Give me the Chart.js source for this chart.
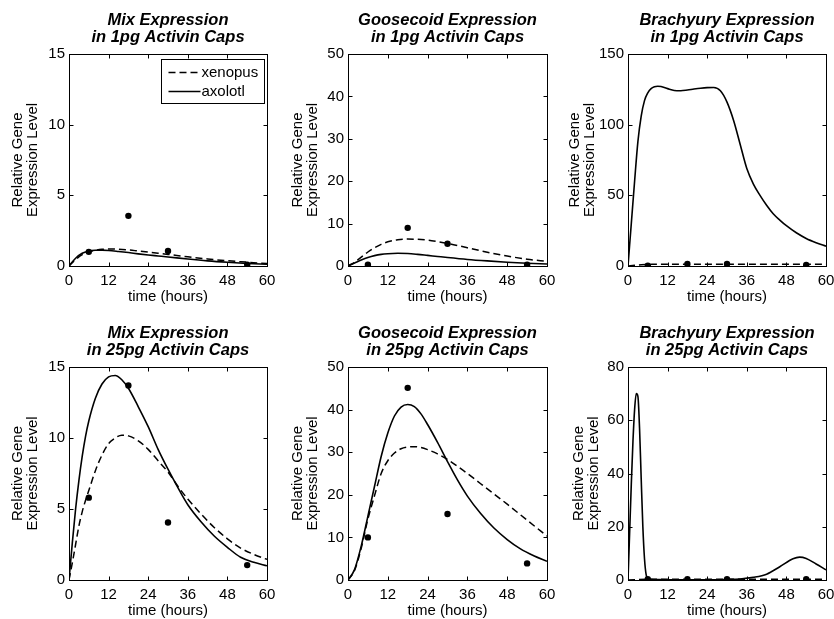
<!DOCTYPE html>
<html><head><meta charset="utf-8">
<script src="https://cdn.jsdelivr.net/npm/chart.js@4.4.1/dist/chart.umd.min.js"></script>
<style>
html,body{margin:0;padding:0;background:#fff;overflow:hidden;width:834px;height:619px;}
#wrap{position:relative;width:834px;height:619px;overflow:hidden;background:#fff;}
canvas{position:absolute;left:0;top:0;}
</style></head><body><div id="wrap">
<canvas id="c0" width="860" height="619"></canvas>
<canvas id="c1" width="860" height="619"></canvas>
<canvas id="c2" width="860" height="619"></canvas>
<canvas id="c3" width="860" height="619"></canvas>
<canvas id="c4" width="860" height="619"></canvas>
<canvas id="c5" width="860" height="619"></canvas>
</div>
<script>
// ---------- data ----------
const timeTicks = [0, 12, 24, 36, 48, 60];
const obsTimes = [6, 18, 30, 54];
const seriesNames = ['xenopus', 'axolotl'];

const mix1Times = [0,2,4,6,8,10,12,15,18,21,24,27,30,36,42,48,54,60];
const mix1Xenopus = [0,0.45,0.8,1.0,1.12,1.18,1.2,1.19,1.14,1.06,0.98,0.9,0.82,0.65,0.5,0.37,0.27,0.17];
const mix1Axolotl = [0,0.55,0.9,1.05,1.11,1.12,1.1,1.03,0.95,0.86,0.78,0.71,0.64,0.49,0.36,0.26,0.18,0.12];
const mix1Observed = [1.0,3.55,1.07,0.1];

const gsc1Times = [0,2,4,6,8,10,12,15,18,21,24,27,30,36,42,48,54,60];
const gsc1Xenopus = [0,0.9,2.1,3.3,4.3,5.1,5.7,6.2,6.35,6.3,6.1,5.75,5.35,4.3,3.25,2.35,1.6,1.1];
const gsc1Axolotl = [0,0.7,1.4,2.0,2.45,2.75,2.9,3.0,2.95,2.75,2.5,2.25,2.0,1.55,1.2,0.9,0.65,0.47];
const gsc1Observed = [0.3,9.0,5.25,0.3];

const bra1XenTimes = [0,2,4,6,8,10,12,18,24,30,36,42,48,54,60];
const bra1Xenopus = [0,0.5,0.9,1.1,1.2,1.3,1.3,1.3,1.3,1.3,1.3,1.3,1.3,1.3,1.3];
const bra1AxoTimes = [0,1,2,3,4,5,6,7,8,9,10,12,14,16,18,20,22,24,26,28,30,32,34,36,38,40,42,44,46,48,51,54,57,60];
const bra1Axolotl = [0,30,60,88,106,117,122.5,125.5,126.8,127.2,127,125.5,124.2,124,124.5,125.2,125.8,126.2,126.3,124,116,103,86,69,58,50,43,37,32.5,28.5,23.5,19.5,16.5,14];
const bra1Observed = [0.3,1.4,1.4,0.7];

const mix25Times = [0,1,2,3,4,5,6,8,10,12,14,16,18,21,24,27,30,33,36,40,44,48,52,56,60];
const mix25Xenopus = [0,1.2,2.5,3.8,4.8,5.6,6.3,7.7,8.8,9.6,10.0,10.2,10.15,9.8,9.2,8.4,7.6,6.6,5.7,4.65,3.7,2.9,2.25,1.8,1.45];
const mix25Axolotl = [0,2.6,5.0,7.0,8.7,10.1,11.2,12.8,13.8,14.3,14.4,14.1,13.5,12.2,10.8,9.2,7.8,6.5,5.3,4.1,3.1,2.3,1.6,1.25,1.0];
const mix25Observed = [5.8,13.7,4.05,1.05];

const gsc25Times = [0,2,4,6,8,10,12,14,16,18,20,22,24,27,30,33,36,40,44,48,52,56,60];
const gsc25Xenopus = [0,2.3,7.5,14.3,19.8,25,28,29.8,30.8,31.2,31.3,31.1,30.6,29.6,28.3,26.7,25.0,22.6,20.2,17.8,15.3,12.8,10.3];
const gsc25Axolotl = [0,2.5,8,15,22,29,34.5,38.5,40.6,41.2,40.7,39.0,36.5,32.3,27.8,23.5,19.7,15.6,12.2,9.5,7.3,5.7,4.4];
const gsc25Observed = [10.0,45.1,15.5,3.9];

const bra25XenTimes = [0,6,12,24,36,48,60];
const bra25Xenopus = [0,0.3,0.3,0.3,0.3,0.3,0.3];
const bra25AxoTimes = [0,0.5,1,1.5,2,2.5,3,3.5,4,4.5,5,5.5,6,8,12,18,24,30,34,38,42,46,50,52,54,57,60];
const bra25Axolotl = [0,18,36,52,64,70,69,57,38,20,8,2,0.5,0.2,0.1,0.1,0.1,0.2,0.4,1.0,2.2,5.0,8.0,8.6,8.1,6.0,3.8];
const bra25Observed = [0.3,0.3,0.3,0.3];

const titles = [
  ['Mix Expression','in 1pg Activin Caps'],
  ['Goosecoid Expression','in 1pg Activin Caps'],
  ['Brachyury Expression','in 1pg Activin Caps'],
  ['Mix Expression','in 25pg Activin Caps'],
  ['Goosecoid Expression','in 25pg Activin Caps'],
  ['Brachyury Expression','in 25pg Activin Caps']
];
const yMaxes = [15, 50, 150, 15, 50, 80];
const ySteps = [5, 10, 50, 5, 10, 20];
const yTitle = ['Relative Gene', 'Expression Level'];
const xTitle = 'time (hours)';

// ---------- layout ----------
const FONT = '"Liberation Sans", Arial, Helvetica, sans-serif';
const rowTop = [54, 367], rowBottom = [266, 580];
const colLeft = [69, 348, 628], colRight = [267, 547, 826];
const yTitleCenter = [18, 298, 575, 18, 298, 579];
const CW = 860, CH = 619, XH = 39, YT_LH = 15;

Chart.defaults.font.family = FONT;
Chart.defaults.font.size = 15;
Chart.defaults.color = '#000';

function pts(t, v){ return t.map((x,i)=>({x:x, y:v[i]})); }

const panels = [
  {xen: pts(mix1Times, mix1Xenopus), axo: pts(mix1Times, mix1Axolotl), obs: pts(obsTimes, mix1Observed)},
  {xen: pts(gsc1Times, gsc1Xenopus), axo: pts(gsc1Times, gsc1Axolotl), obs: pts(obsTimes, gsc1Observed)},
  {xen: pts(bra1XenTimes, bra1Xenopus), axo: pts(bra1AxoTimes, bra1Axolotl), obs: pts(obsTimes, bra1Observed)},
  {xen: pts(mix25Times, mix25Xenopus), axo: pts(mix25Times, mix25Axolotl), obs: pts(obsTimes, mix25Observed)},
  {xen: pts(gsc25Times, gsc25Xenopus), axo: pts(gsc25Times, gsc25Axolotl), obs: pts(obsTimes, gsc25Observed)},
  {xen: pts(bra25XenTimes, bra25Xenopus), axo: pts(bra25AxoTimes, bra25Axolotl), obs: pts(obsTimes, bra25Observed)}
];

const framePlugin = {
  id: 'frame',
  afterDatasetsDraw(chart){
    const {ctx, chartArea:a, scales:{x, y}} = chart;
    ctx.save();
    ctx.strokeStyle = '#000'; ctx.lineWidth = 1;
    const L = Math.round(a.left)+0.5, R = Math.round(a.right)+0.5, T = Math.round(a.top)+0.5, B = Math.round(a.bottom)+0.5;
    ctx.strokeRect(L, T, R-L, B-T);
    const tl = 4;
    ctx.beginPath();
    x.ticks.forEach(t => {
      const px = Math.round(x.getPixelForValue(t.value))+0.5;
      ctx.moveTo(px, B); ctx.lineTo(px, B-tl);
      ctx.moveTo(px, T); ctx.lineTo(px, T+tl);
    });
    y.ticks.forEach(t => {
      const py = Math.round(y.getPixelForValue(t.value))+0.5;
      ctx.moveTo(L, py); ctx.lineTo(L+tl, py);
      ctx.moveTo(R, py); ctx.lineTo(R-tl, py);
    });
    ctx.stroke();
    ctx.restore();
  }
};

const titlePlugin = {
  id: 'panelTitle',
  afterDraw(chart, args, opts){
    const {ctx, chartArea:a} = chart;
    ctx.save();
    ctx.fillStyle = '#000';
    ctx.font = 'italic bold 16.5px ' + FONT;
    ctx.textAlign = 'center';
    ctx.textBaseline = 'alphabetic';
    const cx = (a.left + a.right)/2;
    (opts.lines || []).forEach((l, i) => ctx.fillText(l, cx, a.top - 29 + i*17));
    ctx.restore();
  }
};

const legendPlugin = {
  id: 'panelLegend',
  afterDraw(chart, args, opts){
    if (!opts.show) return;
    const {ctx, chartArea:a} = chart;
    const w = 103, h = 44;
    const x0 = Math.round(a.right - 3 - w)+0.5, y0 = Math.round(a.top + 5)+0.5;
    ctx.save();
    ctx.fillStyle = '#fff';
    ctx.fillRect(x0, y0, w, h);
    ctx.strokeStyle = '#000'; ctx.lineWidth = 1;
    ctx.strokeRect(x0, y0, w, h);
    const ds = chart.data.datasets.slice(0, 2);
    ctx.font = '15px ' + FONT;
    ctx.textBaseline = 'middle';
    ctx.textAlign = 'left';
    ds.forEach((d, i) => {
      const ly = y0 + 13 + i*19;
      ctx.beginPath();
      ctx.setLineDash(d.borderDash || []);
      ctx.lineWidth = 1.5;
      ctx.moveTo(x0 + 7, ly); ctx.lineTo(x0 + 39, ly);
      ctx.stroke();
      ctx.setLineDash([]);
      ctx.fillStyle = '#000';
      ctx.fillText(d.label, x0 + 40, ly);
    });
    ctx.restore();
  }
};

panels.forEach((p, i) => {
  const r = Math.floor(i/3), c = i % 3;
  const top = rowTop[r], bottom = rowBottom[r], left = colLeft[c], right = colRight[c];
  const padLeft = yTitleCenter[i] - YT_LH/2;
  const yW = left - padLeft;
  new Chart(document.getElementById('c'+i), {
    type: 'line',
    data: {
      datasets: [
        {label: seriesNames[0], data: p.xen, borderColor:'#000', borderWidth:1.5, borderDash:[7,4], pointRadius:0, cubicInterpolationMode:'monotone', fill:false},
        {label: seriesNames[1], data: p.axo, borderColor:'#000', borderWidth:1.6, pointRadius:0, cubicInterpolationMode:'monotone', fill:false},
        {label: 'data', data: p.obs, showLine:false, pointRadius:3.2, pointBackgroundColor:'#000', pointBorderColor:'#000', borderColor:'#000', pointBorderWidth:0}
      ]
    },
    options: {
      responsive: false, animation: false, devicePixelRatio: 1,
      layout: {padding: {left: padLeft, top: top, right: CW - right, bottom: CH - bottom - XH}},
      plugins: {
        legend: {display:false}, tooltip: {enabled:false},
        panelTitle: {lines: titles[i]},
        panelLegend: {show: i === 0}
      },
      scales: {
        x: {
          type: 'linear', min: 0, max: 60,
          afterBuildTicks: s => { s.ticks = timeTicks.map(v => ({value: v})); },
          grid: {display:false, drawTicks:false, tickLength:0}, border: {display:false},
          ticks: {padding: 6, font: {size: 15}, color:'#000', maxRotation:0, autoSkip:false},
          title: {display:true, text: xTitle, font: {size: 15, lineHeight: 1.1}, color:'#000', padding: {top:0, bottom:0}},
          afterFit: s => { s.height = XH; }
        },
        y: {
          type: 'linear', min: 0, max: yMaxes[i],
          ticks: {stepSize: ySteps[i], padding: 4, font: {size: 15}, color:'#000'},
          grid: {display:false, drawTicks:false, tickLength:0}, border: {display:false},
          title: {display:true, text: yTitle, font: {size: 15, lineHeight: YT_LH + 'px'}, color:'#000', padding: 0},
          afterFit: s => { s.width = yW; }
        }
      }
    },
    plugins: [framePlugin, titlePlugin, legendPlugin]
  });
});
</script>
</body></html>
